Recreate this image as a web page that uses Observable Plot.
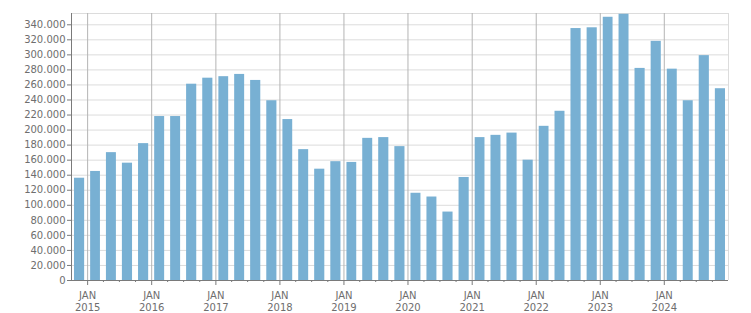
<!DOCTYPE html>
<html><head><meta charset="utf-8">
<script src="https://cdn.jsdelivr.net/npm/d3@7"></script>
<script src="https://cdn.jsdelivr.net/npm/@observablehq/plot@0.6"></script>
<style>body{margin:0;background:#fff}</style>
</head><body><div id="chart"></div>
<script>
const quarters = [
  "2014-10",
  "2015-01","2015-04","2015-07","2015-10",
  "2016-01","2016-04","2016-07","2016-10",
  "2017-01","2017-04","2017-07","2017-10",
  "2018-01","2018-04","2018-07","2018-10",
  "2019-01","2019-04","2019-07","2019-10",
  "2020-01","2020-04","2020-07","2020-10",
  "2021-01","2021-04","2021-07","2021-10",
  "2022-01","2022-04","2022-07","2022-10",
  "2023-01","2023-04","2023-07","2023-10",
  "2024-01","2024-04","2024-07","2024-10"
];
const values = [
  136000,
  145000,170000,156000,182000,
  218000,218000,261000,269000,
  271000,274000,266000,239000,
  214000,174000,148000,158000,
  157000,189000,190000,178000,
  116000,111000,91000,137000,
  190000,193000,196000,160000,
  205000,225000,335000,336000,
  350000,354000,282000,318000,
  281000,239000,299000,255000
];
const yearLabels = ["2015","2016","2017","2018","2019","2020","2021","2022","2023","2024"];
const monthLabel = "JAN";
const yTicks = d3.range(0, 340001, 20000);
const yMax = 355000;

const data = quarters.map((q, i) => {
  const start = new Date(q + "-01T00:00:00Z");
  return {start, end: d3.utcMonth.offset(start, 3), value: values[i]};
});
const xDomain = [new Date("2014-10-01T00:00:00Z"), new Date("2025-01-01T00:00:00Z")];
const janDates = yearLabels.map(y => new Date(`${y}-01-01T00:00:00Z`));
const minorDates = d3.utcMonth.every(3).range(xDomain[0], xDomain[1]).filter(d => d.getUTCMonth() !== 0 && +d > +xDomain[0]);
const fmt = d => d3.format(",")(d).replace(/,/g, ".");

const chart = Plot.plot({
  width: 751,
  height: 313,
  marginLeft: 71,
  marginRight: 23,
  marginTop: 13,
  marginBottom: 33,
  style: {fontFamily: "DejaVu Sans", fontSize: "10px", background: "#fff"},
  x: {type: "utc", domain: xDomain},
  y: {domain: [0, yMax]},
  marks: [
    Plot.gridY(yTicks, {stroke: "#dcdcdc", strokeOpacity: 1}),
    Plot.ruleY([yMax], {stroke: "#dcdcdc"}),
    Plot.ruleX([xDomain[1]], {stroke: "#dcdcdc"}),
    Plot.ruleX(janDates, {stroke: "#b4b4b4"}),
    Plot.rectY(data, {x1: "start", x2: "end", y: "value", fill: "#78b0d3", insetLeft: 3, insetRight: 3}),
    Plot.ruleX([xDomain[0]], {stroke: "#7a7a7a"}),
    Plot.ruleY([0], {stroke: "#7a7a7a"}),
    Plot.axisY({ticks: yTicks, tickSize: 4, tickPadding: 2, tickFormat: fmt, label: null, stroke: "#7a7a7a", fill: "#6e6e6e"}),
    Plot.axisX({ticks: janDates, tickSize: 5, tickPadding: 5, lineHeight: 1.2, tickFormat: d => `${monthLabel}\n${d.getUTCFullYear()}`, label: null, stroke: "#7a7a7a", fill: "#6e6e6e"}),
    Plot.axisX({ticks: minorDates, tickSize: 2, tickFormat: () => "", label: null, stroke: "#7a7a7a"})
  ]
});
document.getElementById("chart").appendChild(chart);
</script>
</body></html>
